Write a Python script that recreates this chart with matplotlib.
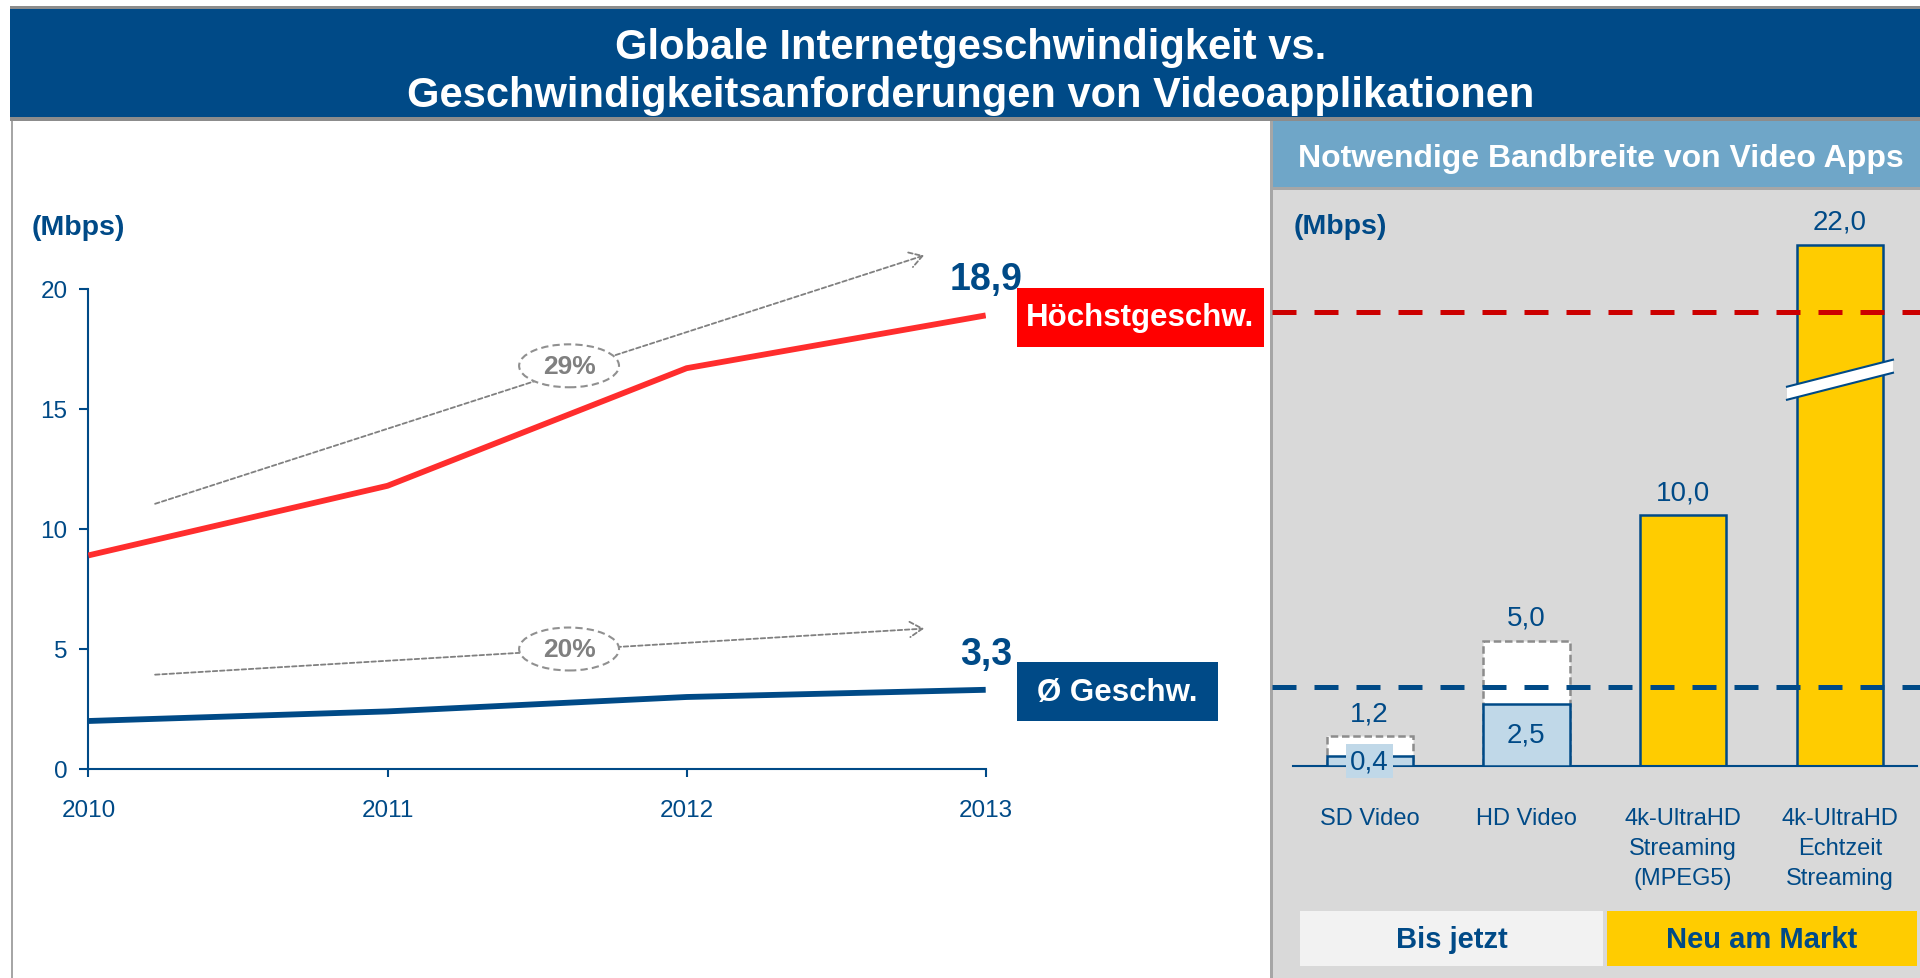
import numpy as np
import matplotlib
matplotlib.use('Agg')
import matplotlib.pyplot as plt
from matplotlib.patches import Rectangle, Ellipse, Polygon
from matplotlib.transforms import blended_transform_factory, IdentityTransform

plt.rcParams['font.family'] = ['Liberation Sans', 'DejaVu Sans']

# Daten links: Internetgeschwindigkeit (Mbps)
years = [2010, 2011, 2012, 2013]
peak_speed = [8.9, 11.8, 16.7, 18.9]
avg_speed = [2.0, 2.4, 3.0, 3.3]
peak_growth = '29%'
avg_growth = '20%'

# Daten rechts: Bandbreite von Video Apps (Mbps)
apps = ['SD Video', 'HD Video', '4k-UltraHD\nStreaming\n(MPEG5)', '4k-UltraHD\nEchtzeit\nStreaming']
old_idx = [0, 1]
old_min = [0.4, 2.5]
old_max = [1.2, 5.0]
new_idx = [2, 3]
new_val = [10.0, 22.0]

DB = '#004A87'
RED = '#FF2D2D'
GREY = '#808080'
W, H = 1920, 979


def fx(px):
    return px / W


def fy(py):
    return 1 - py / H


def fmt(v):
    return f'{v:.1f}'.replace('.', ',')


fig = plt.figure(figsize=(19.2, 9.79), dpi=100)
fig.patch.set_facecolor('white')

# Hintergruende / Rahmen
def rect(x0, y0, x1, y1, c):
    fig.add_artist(Rectangle((fx(x0), fy(y1)), (x1 - x0) / W, (y1 - y0) / H,
                             facecolor=c, edgecolor='none', zorder=0))

rect(1271, 122, 1920, 979, '#D9D9D9')
rect(10, 7, 1920, 10, '#8C8C8C')
rect(10, 10, 1920, 118, '#004A87')
rect(10, 118, 1920, 122, '#8C8C8C')
rect(11, 122, 13, 979, '#A6A6A6')
rect(1270, 122, 1273, 979, '#A6A6A6')
rect(1273, 122, 1920, 188, '#6FA6C8')
rect(1273, 188, 1920, 191, '#A6A6A6')

fig.text(fx(971), fy(48), 'Globale Internetgeschwindigkeit vs.', color='white',
         fontsize=30, fontweight='bold', ha='center', va='center')
fig.text(fx(971), fy(96), 'Geschwindigkeitsanforderungen von Videoapplikationen', color='white',
         fontsize=30, fontweight='bold', ha='center', va='center')
fig.text(fx(1601), fy(159), 'Notwendige Bandbreite von Video Apps', color='white',
         fontsize=23, fontweight='bold', ha='center', va='center')
fig.text(fx(32), fy(228), '(Mbps)', color=DB, fontsize=20.5, fontweight='bold', va='center')
fig.text(fx(1294), fy(227), '(Mbps)', color=DB, fontsize=20.5, fontweight='bold', va='center')

# linkes Diagramm
ax1 = fig.add_axes([fx(88.4), fy(770), (985.7 - 88.4) / W, (770 - 290) / H])
ax1.set_facecolor('none')
ax1.plot(years, peak_speed, color=RED, lw=4.2, solid_capstyle='butt', zorder=3)
ax1.plot(years, avg_speed, color=DB, lw=4.2, solid_capstyle='butt', zorder=3)
ax1.set_xlim(2010, 2013)
ax1.set_ylim(0, 20)
ax1.set_xticks(years)
ax1.set_xticklabels([str(y) for y in years])
ax1.set_yticks([0, 5, 10, 15, 20])
for s in ['top', 'right']:
    ax1.spines[s].set_visible(False)
for s in ['left', 'bottom']:
    ax1.spines[s].set_color(DB)
    ax1.spines[s].set_linewidth(1.5)
ax1.tick_params(axis='x', length=5.8, width=1.5, color=DB, labelcolor=DB, labelsize=17.5, pad=15.5)
ax1.tick_params(axis='y', length=6.5, width=1.5, color=DB, labelcolor=DB, labelsize=17.5, pad=8.6)

# Wachstumspfeile
for (x0, y0, x1, y1), (cx, cy), txt in [
        ((2010.223, 11.05, 2012.794, 21.4), (2011.607, 16.8), peak_growth),
        ((2010.223, 3.93, 2012.794, 5.85), (2011.607, 5.0), avg_growth)]:
    ax1.annotate('', xy=(x1, y1), xytext=(x0, y0), annotation_clip=False,
                 arrowprops=dict(arrowstyle='->,head_length=0.9,head_width=0.55', color=GREY,
                                 lw=1.3, linestyle=(0, (2.5, 1.5)), shrinkA=0, shrinkB=0))
    ax1.add_patch(Ellipse((cx, cy), 0.334, 1.79, facecolor='white', edgecolor='#909090',
                          lw=1.5, linestyle=(0, (3.5, 2)), zorder=4, clip_on=False))
    ax1.text(cx, cy, txt, color=GREY, fontsize=19, fontweight='bold', ha='center',
             va='center', zorder=5)

# Endwerte + Beschriftungsboxen
fig.canvas.draw()
for vals, name, col, bw in [(peak_speed, 'Höchstgeschw.', '#FF0000', 247),
                            (avg_speed, 'Ø Geschw.', DB, 201)]:
    ax1.annotate(fmt(vals[-1]), xy=(years[-1], vals[-1]), xytext=(0, 26),
                 textcoords='offset points', ha='center', va='center', fontsize=27,
                 fontweight='bold', color=DB, annotation_clip=False)
    px, py = ax1.transData.transform((years[-1], vals[-1]))
    bx0 = px + 31
    by = py - 2
    fig.add_artist(Rectangle((bx0, by - 29.5), bw, 59, facecolor=col, edgecolor='none',
                             transform=IdentityTransform(), zorder=5))
    fig.text(bx0 + bw / 2, by, name, transform=IdentityTransform(), color='white',
             fontsize=22.5, fontweight='bold', ha='center', va='center', zorder=6)

# rechtes Diagramm (Achse mit Bruch oberhalb von BRK)
BRK, K = 15.4, 0.815


def fwd(y):
    y = np.asarray(y, dtype=float)
    return np.where(y <= BRK, y, BRK + (y - BRK) * K)


def inv(y):
    y = np.asarray(y, dtype=float)
    return np.where(y <= BRK, y, BRK + (y - BRK) / K)


ax2 = fig.add_axes([fx(1292.8), fy(767.3), 624 / W, (767.3 - 200) / H])
ax2.set_facecolor('none')
ax2.set_yscale('function', functions=(fwd, inv))

ax2.bar(old_idx, old_max, width=0.55, color='white', edgecolor='#8C8C8C', lw=1.8,
        linestyle=(0, (3, 1.5)), zorder=2)
ax2.bar(old_idx, old_min, width=0.55, color='#C0D8E8', edgecolor=DB, lw=1.8, zorder=3)
ax2.bar(new_idx, new_val, width=0.55, color='#FFCC00', edgecolor=DB, lw=1.8, zorder=2)

for i, v in zip(old_idx + new_idx, old_max + new_val):
    ax2.annotate(fmt(v), xy=(i, v), xytext=(0, 16.5), textcoords='offset points',
                 ha='center', va='center', fontsize=20, color=DB, annotation_clip=False)
for i, v in zip(old_idx, old_min):
    if v < 1:
        ax2.text(i, v / 2, fmt(v), ha='center', va='center', fontsize=20, color=DB, zorder=7,
                 bbox=dict(boxstyle='square,pad=0.15', fc='#C0D8E8', ec='none'))
    else:
        ax2.text(i, v / 2, fmt(v), ha='center', va='center', fontsize=20, color=DB, zorder=7)

# Bruchmarkierung am hoechsten Balken
bi = new_idx[int(np.argmax(new_val))]
hw, slope, th = 0.338, 0.538, 0.26
xs = [bi - hw, bi + hw, bi + hw, bi - hw]
ys = [BRK - slope - th, BRK + slope - th, BRK + slope + th, BRK - slope + th]
ys = [float(inv(y)) for y in ys]
ax2.add_patch(Polygon(list(zip(xs, ys)), closed=True, facecolor='white', edgecolor='none',
                      zorder=4, clip_on=False))
ax2.plot(xs[:2], ys[:2], color=DB, lw=1.5, zorder=5, clip_on=False)
ax2.plot(xs[2:], ys[2:], color=DB, lw=1.5, zorder=5, clip_on=False)

# Durchschnitts-/Hoechstwert als gestrichelte Linien ueber das rechte Panel
tr = blended_transform_factory(fig.transFigure, ax1.transData)
ax2.plot([fx(1272), 1.0], [peak_speed[-1] + 0.15] * 2, transform=tr, color='#CC0000', lw=3.6,
         linestyle=(0, (4.8, 3.6)), clip_on=False, zorder=6)
ax2.plot([fx(1272), 1.0], [avg_speed[-1] + 0.1] * 2, transform=tr, color=DB, lw=3.6,
         linestyle=(0, (4.8, 3.6)), clip_on=False, zorder=6)

ax2.set_xlim(-0.49, 3.49)
ax2.set_ylim(0, float(inv(22.6)))
ax2.set_xticks(range(len(apps)))
ax2.set_xticklabels(apps, fontsize=17, color=DB, linespacing=1.45)
ax2.tick_params(axis='x', length=0, pad=29.5)
ax2.tick_params(axis='y', left=False, labelleft=False)
for s in ['top', 'right', 'left']:
    ax2.spines[s].set_visible(False)
ax2.spines['bottom'].set_color(DB)
ax2.spines['bottom'].set_linewidth(1.5)

# Legende unten rechts
rect(1300, 912, 1603, 967, '#F2F2F2')
rect(1607, 912, 1917, 967, '#FFCC00')
fig.text(fx(1451.5), fy(940), 'Bis jetzt', color=DB, fontsize=21, fontweight='bold',
         ha='center', va='center')
fig.text(fx(1762), fy(940), 'Neu am Markt', color=DB, fontsize=21, fontweight='bold',
         ha='center', va='center')

fig.savefig('out.png', dpi=100)
